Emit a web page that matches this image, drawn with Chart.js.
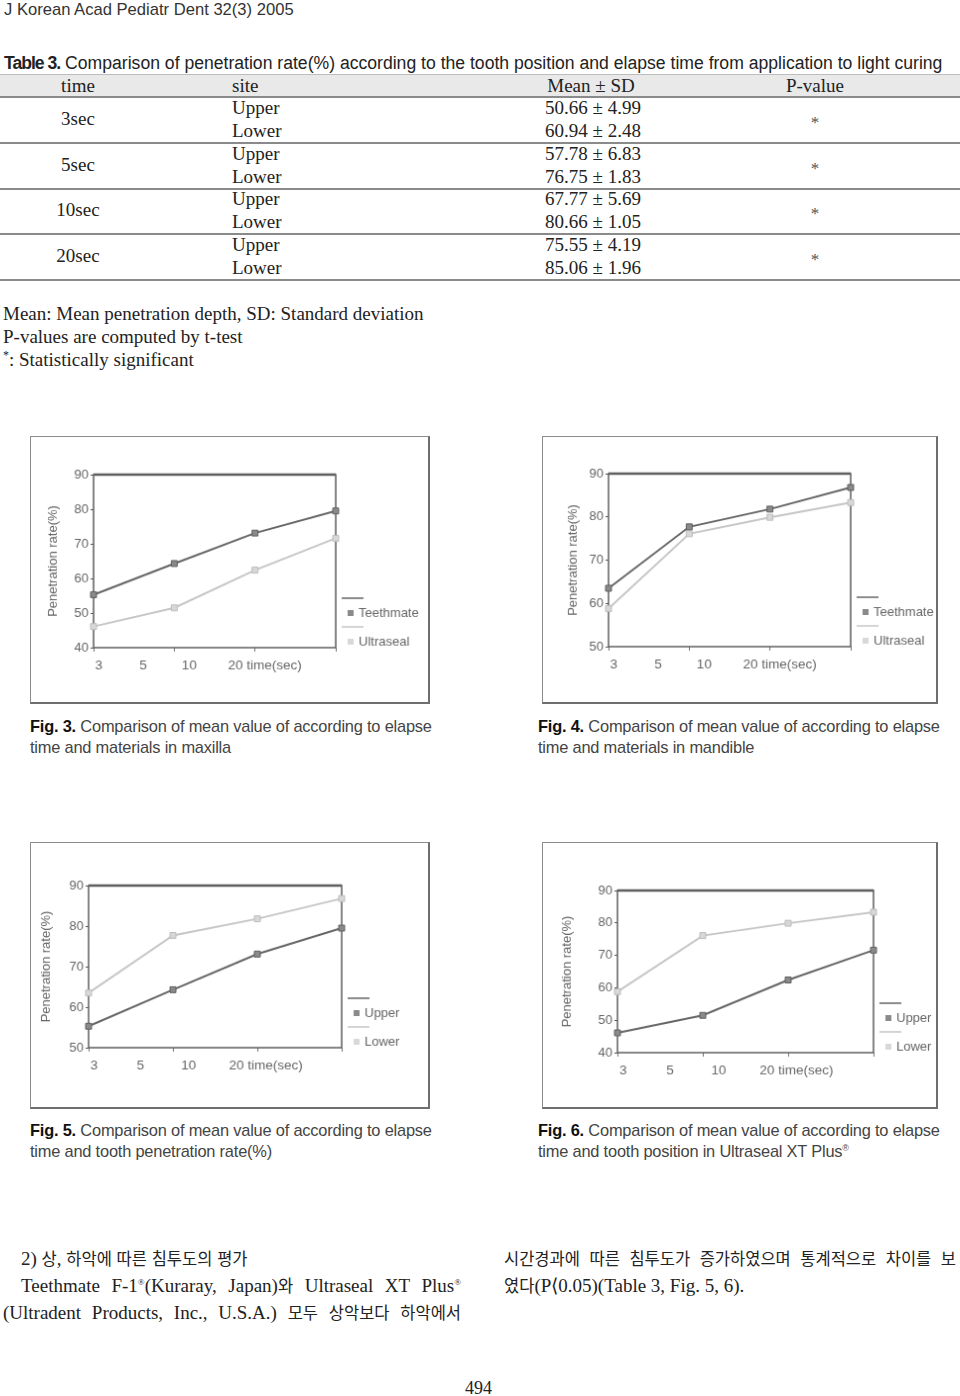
<!DOCTYPE html>
<html>
<head>
<meta charset="utf-8">
<script src="https://cdn.jsdelivr.net/npm/chart.js@4.4.0/dist/chart.umd.min.js"></script>
<style>
  body { margin: 0; width: 960px; height: 1396px; position: relative; background: #fff; overflow: hidden; }
  .t { position: absolute; white-space: nowrap; line-height: 20px; }
  .sans { font-family: "Liberation Sans", Arial, sans-serif; }
  .serif { font-family: "Liberation Serif", "Noto Sans CJK KR", serif; color: #222; }
  .rule { position: absolute; left: 0; width: 960px; background: #8a8a8a; }
  .fig { position: absolute; border: 1px solid #8c8c8c; border-right: 2px solid #6e6e6e; border-bottom: 2px solid #6e6e6e; }
  .cap { font-size: 16.4px; color: #444; letter-spacing: -0.2px; }
  .cap b { color: #111; }
  .jus { position: absolute; font-size: 19px; line-height: 27px; text-align: justify; text-align-last: justify; white-space: nowrap; }
  .kr { font-family: "Noto Sans CJK KR", sans-serif; font-size: 16.5px; }
  sup { font-size: 9px; line-height: 0; }
</style>
</head>
<body>

<div class="t sans" style="left:4px;top:0px;font-size:16.6px;color:#333">J Korean Acad Pediatr Dent 32(3) 2005</div>
<div class="t sans" style="left:4px;top:53px;font-size:17.6px;color:#222"><b style="letter-spacing:-1px">Table 3.</b> Comparison of penetration rate(%) according to the tooth position and elapse time from application to light curing</div>

<div id="table"></div>

<div class="t serif" style="left:3px;top:304px;font-size:19px">Mean: Mean penetration depth, SD: Standard deviation</div>
<div class="t serif" style="left:3px;top:327px;font-size:19px">P-values are computed by t-test</div>
<div class="t serif" style="left:3px;top:350px;font-size:19px"><sup style="font-size:12px">*</sup>: Statistically significant</div>

<canvas id="fig3" class="fig" width="400" height="268" style="left:30px;top:436px"></canvas>
<canvas id="fig4" class="fig" width="396" height="268" style="left:542px;top:436px"></canvas>
<canvas id="fig5" class="fig" width="400" height="267" style="left:30px;top:842px"></canvas>
<canvas id="fig6" class="fig" width="396" height="267" style="left:542px;top:842px"></canvas>

<div class="t sans cap" style="left:30px;top:716px"><b>Fig. 3.</b> Comparison of mean value of according to elapse</div>
<div class="t sans cap" style="left:30px;top:737px">time and materials in maxilla</div>
<div class="t sans cap" style="left:538px;top:716px"><b>Fig. 4.</b> Comparison of mean value of according to elapse</div>
<div class="t sans cap" style="left:538px;top:737px">time and materials in mandible</div>
<div class="t sans cap" style="left:30px;top:1120px"><b>Fig. 5.</b> Comparison of mean value of according to elapse</div>
<div class="t sans cap" style="left:30px;top:1141px">time and tooth penetration rate(%)</div>
<div class="t sans cap" style="left:538px;top:1120px"><b>Fig. 6.</b> Comparison of mean value of according to elapse</div>
<div class="t sans cap" style="left:538px;top:1141px">time and tooth position in Ultraseal XT Plus<sup>®</sup></div>

<div class="t serif kt" style="left:21px;top:1245px;font-size:19px;line-height:27px">2) 상, 하악에 따른 침투도의 평가</div>
<div class="jus serif kt" style="left:21px;top:1272px;width:440px">Teethmate F-1<sup>®</sup>(Kuraray, Japan)와 Ultraseal XT Plus<sup>®</sup></div>
<div class="jus serif kt" style="left:3px;top:1299px;width:458px">(Ultradent Products, Inc., U.S.A.) 모두 상악보다 하악에서</div>
<div class="jus serif kt" style="left:504px;top:1245px;width:452px">시간경과에 따른 침투도가 증가하였으며 통계적으로 차이를 보</div>
<div class="t serif kt" style="left:504px;top:1272px;font-size:19px;line-height:27px">였다(P⟨0.05)(Table 3, Fig. 5, 6).</div>
<div class="t serif" style="left:465px;top:1378px;font-size:18px">494</div>

<script>
// Table 3 values
const tableTimes = ['3sec', '5sec', '10sec', '20sec'];
const tableSites = ['Upper', 'Lower'];
const upperMean = [50.66, 57.78, 67.77, 75.55];
const upperSD = [4.99, 6.83, 5.69, 4.19];
const lowerMean = [60.94, 76.75, 80.66, 85.06];
const lowerSD = [2.48, 1.83, 1.05, 1.96];
const pMarks = ['*', '*', '*', '*'];

// figure data
const timeTicks = ['3', '5', '10', '20'];
const timeUnit = 'time(sec)';
const teethmateUpper = [55.3, 64.3, 73.1, 79.5];
const ultrasealUpper = [46.1, 51.5, 62.4, 71.6];
const teethmateLower = [63.5, 77.7, 81.8, 86.8];
const ultrasealLower = [58.8, 76.1, 79.9, 83.3];
const yRangeFig3 = [40, 90];
const yRangeFig4 = [50, 90];
const yRangeFig5 = [50, 90];
const yRangeFig6 = [40, 90];

// hangul runs get the CJK font at a smaller size
document.querySelectorAll('.kt').forEach(el => {
  el.innerHTML = el.innerHTML.replace(/([\uac00-\ud7a3]+)/g, '<span class="kr">$1</span>');
});

// --- table ---
(function buildTable() {
  const host = document.getElementById('table');
  let html = '<div class="rule" style="top:74px;height:23px;background:#e9e9e9"></div>' +
             '<div class="rule" style="top:74px;height:1px;background:#bdbdbd"></div>' +
             '<div class="rule" style="top:96px;height:2px"></div>';
  const cell = (x, y, txt, align) => {
    const tr = align === 'c' ? 'translateX(-50%)' : 'none';
    return `<div class="t serif" style="left:${x}px;top:${y - 10}px;font-size:19px;transform:${tr}">${txt}</div>`;
  };
  html += cell(78, 86, 'time', 'c') + cell(232, 86, 'site', 'l') + cell(591, 86, 'Mean ± SD', 'c') + cell(815, 86, 'P-value', 'c');
  tableTimes.forEach((t, i) => {
    const top = 97 + i * 45.5;
    html += cell(78, top + 22, t, 'c');
    html += cell(232, top + 11, tableSites[0], 'l');
    html += cell(232, top + 34, tableSites[1], 'l');
    html += cell(593, top + 11, upperMean[i].toFixed(2) + ' ± ' + upperSD[i].toFixed(2), 'c');
    html += cell(593, top + 34, lowerMean[i].toFixed(2) + ' ± ' + lowerSD[i].toFixed(2), 'c');
    html += `<div class="t serif" style="left:815px;top:${top + 16}px;font-size:17px;color:#555;transform:translateX(-50%)">${pMarks[i]}</div>`;
    html += `<div class="rule" style="top:${Math.round(top + 45)}px;height:1.5px"></div>`;
  });
  host.innerHTML = html;
})();

// --- figures ---
const DARK = '#666', LIGHT = '#c6c6c6';
const labelFrac = [0.022, 0.205, 0.395];   // x label centres (fraction of plot width)
const lastFrac = 0.555;                      // start of "20 time(sec)"
const FONT = '"Liberation Sans", Arial, sans-serif';

const frame = {
  id: 'frame',
  beforeDatasetsDraw(chart) {
    const { ctx, chartArea: a } = chart;
    ctx.save();
    ctx.strokeStyle = '#5e5e5e';
    ctx.lineWidth = 1.5;
    ctx.strokeRect(a.left, a.top, a.right - a.left, a.bottom - a.top);
    ctx.lineWidth = 2.5;
    ctx.beginPath(); ctx.moveTo(a.left, a.top); ctx.lineTo(a.right, a.top); ctx.stroke();
    ctx.restore();
  },
  afterDraw(chart, args, o) {
    const { ctx, chartArea: a } = chart;
    const w = a.right - a.left;
    ctx.save();
    ctx.font = '13px ' + FONT;
    ctx.fillStyle = '#666';
    // y title
    ctx.save();
    ctx.translate(o.titleX, (a.top + a.bottom) / 2);
    ctx.rotate(-Math.PI / 2);
    ctx.textAlign = 'center'; ctx.textBaseline = 'middle';
    ctx.fillText('Penetration rate(%)', 0, 0);
    ctx.restore();
    // x labels
    ctx.font = '13.5px ' + FONT;
    ctx.textBaseline = 'middle';
    ctx.textAlign = 'center';
    const labels = chart.data.labels;
    labels.slice(0, 3).forEach((l, i) => ctx.fillText(l, a.left + labelFrac[i] * w, a.bottom + 18));
    ctx.textAlign = 'left';
    ctx.fillText(labels[3] + ' ' + timeUnit, a.left + lastFrac * w, a.bottom + 18);
    // legend
    const offs = [[-50, -35], [-21, -6]];
    ctx.font = '13px ' + FONT;
    chart.data.datasets.forEach((ds, i) => {
      const [ly, ty] = offs[i];
      ctx.strokeStyle = ds.borderColor;
      ctx.lineWidth = 1.5;
      ctx.beginPath(); ctx.moveTo(a.right + 6, a.bottom + ly); ctx.lineTo(a.right + 28, a.bottom + ly); ctx.stroke();
      ctx.fillStyle = ds.pointBackgroundColor;
      ctx.fillRect(a.right + 12, a.bottom + ty - 3, 6, 6);
      ctx.fillStyle = '#666';
      ctx.fillText(ds.label, a.right + 23, a.bottom + ty);
    });
    ctx.restore();
  }
};

function makeFig(id, box, range, series) {
  const canvas = document.getElementById(id);
  const W = canvas.width, H = canvas.height;
  const mkSet = (label, data, dark) => ({
    label, data,
    borderColor: dark ? DARK : LIGHT,
    borderWidth: 2,
    pointStyle: 'rect',
    pointRadius: 4.2,
    pointBackgroundColor: dark ? '#8a8a8a' : '#d8d8d8',
    pointBorderColor: dark ? '#5e5e5e' : '#bcbcbc',
    pointBorderWidth: 1,
    tension: 0
  });
  return new Chart(canvas.getContext('2d'), {
    type: 'line',
    data: {
      labels: timeTicks,
      datasets: [mkSet(series[0][0], series[0][1], true), mkSet(series[1][0], series[1][1], false)]
    },
    options: {
      responsive: false,
      animation: false,
      devicePixelRatio: 1,
      layout: { padding: { left: 0, top: box.top, right: W - box.right, bottom: 0 } },
      plugins: { legend: { display: false }, tooltip: { enabled: false }, frame: { titleX: box.titleX } },
      scales: {
        x: {
          type: 'category', offset: false,
          ticks: { display: false },
          grid: { drawOnChartArea: false, drawTicks: true, tickLength: 4, color: '#777' },
          border: { display: false },
          afterFit: s => { s.height = H - box.bottom; }
        },
        y: {
          min: range[0], max: range[1],
          ticks: { stepSize: 10, padding: 2, color: '#666', font: { family: FONT, size: 13 } },
          grid: { drawOnChartArea: false, drawTicks: true, tickLength: 3, color: '#555' },
          border: { display: false },
          afterFit: s => { s.width = box.left; }
        }
      }
    },
    plugins: [frame]
  });
}

makeFig('fig3', { left: 63, top: 38, right: 307, bottom: 213, titleX: 22 }, yRangeFig3,
  [['Teethmate', teethmateUpper], ['Ultraseal', ultrasealUpper]]);
makeFig('fig4', { left: 66, top: 37, right: 310, bottom: 212, titleX: 30 }, yRangeFig4,
  [['Teethmate', teethmateLower], ['Ultraseal', ultrasealLower]]);
makeFig('fig5', { left: 58, top: 43, right: 313, bottom: 207, titleX: 15 }, yRangeFig5,
  [['Upper', teethmateUpper], ['Lower', teethmateLower]]);
makeFig('fig6', { left: 75, top: 48, right: 333, bottom: 212, titleX: 24 }, yRangeFig6,
  [['Upper', ultrasealUpper], ['Lower', ultrasealLower]]);
</script>
</body>
</html>
